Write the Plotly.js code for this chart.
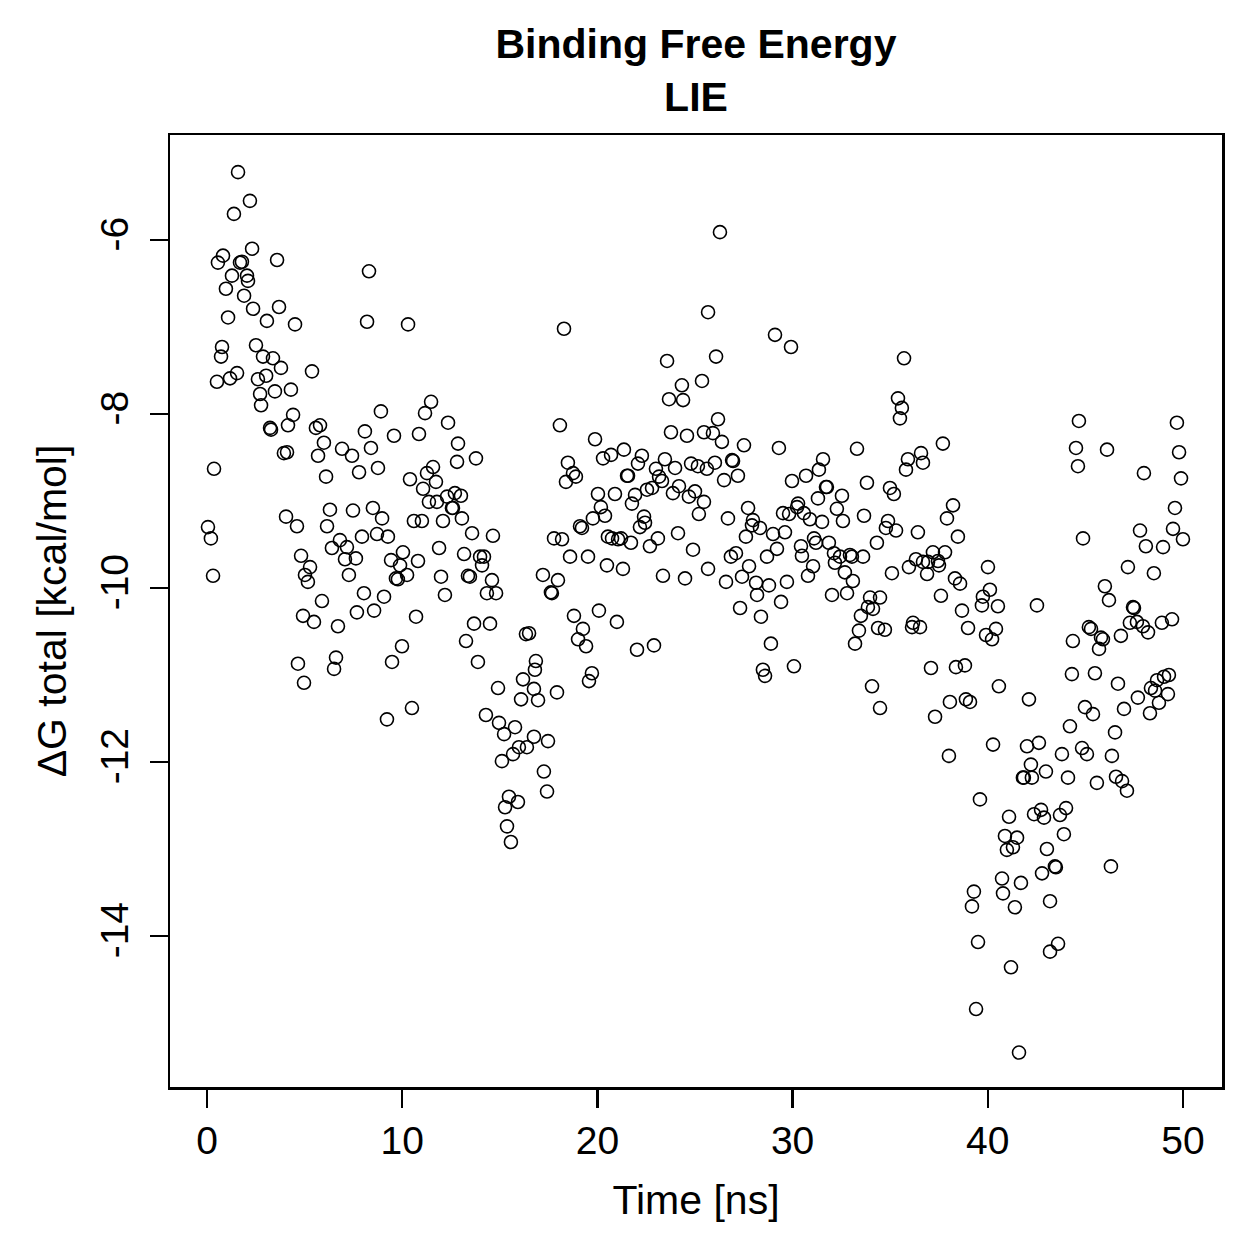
<!DOCTYPE html>
<html>
<head>
<meta charset="utf-8">
<script src="https://cdn.plot.ly/plotly-3.0.1.min.js"></script>
<style>
  html, body { margin: 0; padding: 0; background: #ffffff; }
  #chart { width: 1259px; height: 1259px; }
</style>
</head>
<body>
<div id="chart"></div>
<script>
// LIE binding free energy over the trajectory
const time = [
  0.05,0.20,0.31,0.36,0.51,0.56,0.72,0.77,0.82,0.97,1.08,1.18,1.28,1.38,1.54,1.59,1.69,1.79,1.90,2.05,
  2.10,2.20,2.31,2.36,2.51,2.61,2.72,2.77,2.87,3.03,3.07,3.23,3.28,3.38,3.48,3.59,3.69,3.79,3.94,4.05,
  4.10,4.15,4.30,4.41,4.51,4.61,4.82,5.02,5.17,5.28,5.38,5.58,5.69,5.79,5.99,6.10,6.15,6.30,6.40,6.81,
  6.92,7.07,7.17,7.27,7.43,7.48,7.63,7.79,
  4.66,4.92,4.97,5.48,5.89,6.51,6.61,6.71,7.68,
  7.94,8.04,8.09,8.20,8.30,8.40,8.50,8.71,8.76,8.91,8.97,9.07,9.27,9.43,9.58,9.68,9.78,9.89,10.04,10.25,
  10.30,10.40,10.60,10.81,10.86,11.01,11.07,11.17,11.27,11.37,11.48,11.58,11.73,11.78,11.89,11.99,12.09,12.19,12.30,12.35,
  12.55,12.60,12.70,12.81,12.86,13.01,13.06,13.17,13.37,13.47,13.58,13.78,13.99,14.09,14.19,14.34,14.60,14.65,14.81,
  8.56,9.22,9.48,9.99,10.50,10.71,13.27,13.68,13.88,14.29,14.50,14.91,14.96,15.11,15.22,15.27,15.37,15.47,15.57,15.68,
  15.78,15.93,15.98,16.09,16.19,16.34,16.39,16.50,
  16.85,16.80,16.75,16.96,17.93,16.75,17.47,17.26,17.42,18.80,19.01,19.26,19.42,19.57,19.72,20.08,21.00,22.03,22.90,
  17.21,17.62,17.67,17.78,17.98,18.08,18.19,18.29,18.39,18.49,18.60,18.75,18.90,19.11,19.21,19.52,19.77,19.88,20.03,20.18,
  20.29,20.39,20.49,20.54,20.70,20.75,20.90,21.06,21.21,21.31,21.36,21.52,21.57,21.72,21.77,21.93,22.08,22.18,22.28,22.39,
  22.44,22.54,22.69,22.80,23.00,23.10,23.16,23.31,23.36,23.46,23.57,23.67,23.77,23.87,23.98,24.13,24.18,24.33,24.39,24.49,
  24.59,24.69,24.80,24.90,25.00,25.15,25.20,
  25.36,25.46,25.46,25.61,25.67,25.67,25.92,26.02,26.08,26.18,26.28,26.38,26.49,26.59,26.69,26.84,26.90,26.95,27.10,27.20,
  27.41,27.51,27.61,27.72,27.77,27.92,27.97,28.13,28.33,28.69,28.79,29.00,29.10,29.20,29.30,29.51,29.61,29.71,29.82,29.92,
  29.97,30.23,30.28,30.43,30.48,30.58,30.69,30.79,30.89,31.05,31.10,31.20,31.30,31.35,31.51,31.56,31.71,31.76,31.86,32.12,
  32.17,32.27,32.43,32.53,32.58,32.68,32.94,33.04,33.09,33.30,33.61,33.66,33.81,
  27.31,28.18,28.38,28.48,28.59,28.89,29.41,30.07,32.02,32.79,33.20,33.40,33.50,33.86,33.97,34.12,34.07,34.38,34.48,
  34.32,34.78,34.89,34.99,35.09,35.19,35.30,35.40,35.50,35.60,35.71,35.81,35.91,35.96,36.32,36.42,36.58,36.68,36.68,36.89,
  36.94,37.19,37.45,37.50,37.70,37.81,37.91,38.22,38.32,38.47,38.58,40.01,40.11,
  34.48,34.73,36.12,36.17,36.53,37.09,37.30,37.60,38.01,38.06,38.37,38.68,38.83,38.88,38.99,39.09,39.19,39.29,39.40,39.50,
  39.60,39.75,39.70,39.91,40.22,40.27,40.42,40.52,40.57,40.73,40.78,40.88,40.98,41.09,41.19,41.29,41.39,41.50,41.60,41.70,
  41.80,41.85,42.01,42.11,42.21,42.26,42.37,42.52,42.62,
  42.73,42.78,42.88,42.98,43.03,43.19,43.19,43.44,43.49,43.60,43.70,43.80,43.90,44.01,44.11,44.21,44.31,44.36,44.52,44.62,
  44.67,44.83,44.88,44.98,45.08,45.18,45.29,45.39,45.49,45.59,45.70,45.80,45.90,46.00,46.11,46.21,46.31,46.36,46.52,46.57,
  46.67,46.82,46.88,46.98,47.13,47.18,47.28,47.44,47.49,47.64,47.69,47.80,47.95,48.00,48.10,48.21,48.31,48.36,48.51,48.57,
  48.67,48.77,48.92,48.98,49.03,49.23,49.28,49.44,49.49,49.59,49.69,49.80,49.90,50.00
];

const dGtotal = [
  -9.30,-9.43,-9.86,-8.63,-7.63,-6.26,-7.34,-7.23,-6.18,-6.56,-6.89,-7.59,-6.41,-5.70,-7.53,-5.22,-6.26,-6.25,-6.64,-6.41,
  -6.47,-5.55,-6.10,-6.79,-7.21,-7.60,-7.77,-7.90,-7.34,-7.56,-6.93,-8.16,-8.18,-7.36,-7.74,-6.23,-6.77,-7.47,-8.45,-9.18,
  -8.44,-8.13,-7.72,-8.01,-6.97,-9.29,-9.63,-9.85,-9.93,-9.76,-7.51,-8.16,-8.48,-8.13,-8.33,-8.72,-9.29,-9.10,-9.54,-9.45,
  -8.40,-9.67,-9.53,-9.85,-8.48,-9.11,-9.66,-8.67,
  -10.87,-10.32,-11.09,-10.39,-10.15,-10.93,-10.80,-10.44,-10.28,
  -9.41,-10.06,-8.20,-6.94,-6.36,-8.39,-9.08,-9.38,-8.62,-7.97,-9.20,-10.10,-9.41,-9.68,-8.25,-9.89,-9.90,-9.74,-9.59,-9.85,
  -6.97,-8.75,-9.23,-9.69,-8.23,-9.23,-8.86,-7.99,-8.68,-9.01,-7.86,-8.61,-8.78,-9.01,-9.54,-9.87,-9.23,-10.08,-8.95,-8.10,
  -9.08,-9.08,-8.91,-8.55,-8.34,-8.94,-9.20,-9.61,-9.86,-9.87,-9.37,-8.51,-9.64,-9.74,-9.64,-10.06,-9.91,-9.40,-10.06,
  -10.26,-11.51,-10.85,-10.67,-11.38,-10.33,-10.61,-10.41,-10.85,-11.46,-10.41,-11.15,-11.55,-11.99,-11.68,-12.52,-12.74,-12.40,-12.92,-11.91,
  -11.60,-12.46,-11.83,-11.28,-11.05,-10.53,-11.83,-10.52,
  -10.84,-10.94,-11.16,-11.29,-11.20,-11.71,-11.76,-12.11,-12.34,-10.32,-10.59,-10.47,-10.67,-11.07,-10.98,-10.26,-10.39,-10.71,-10.66,
  -9.85,-10.05,-10.06,-9.43,-9.91,-8.13,-9.44,-7.02,-8.78,-8.56,-9.64,-8.68,-8.72,-9.29,-9.31,-9.64,-9.20,-8.29,-8.92,-9.07,
  -8.51,-9.17,-9.74,-9.41,-8.47,-9.43,-8.92,-9.44,-9.43,-9.78,-8.41,-8.71,-8.71,-9.48,-9.03,-8.93,-8.57,-9.30,-8.48,-9.18,
  -9.25,-8.87,-9.52,-8.85,-8.63,-9.43,-8.72,-8.77,-9.86,-8.52,-7.39,-7.83,-8.21,-8.91,-8.62,-9.37,-8.83,-7.67,-7.84,-9.89,
  -8.25,-8.95,-8.57,-9.56,-8.89,-8.60,-9.15,
  -7.62,-8.21,-9.01,-8.63,-6.83,-9.78,-8.22,-8.56,-7.34,-8.06,-5.91,-8.32,-8.76,-9.93,-9.20,-9.64,-8.53,-8.54,-9.60,-8.71,
  -9.87,-8.36,-9.41,-9.08,-9.75,-9.28,-9.22,-9.94,-9.31,-9.64,-9.97,-9.38,-7.09,-9.55,-8.39,-9.14,-9.36,-9.93,-9.15,-7.23,
  -8.77,-9.07,-9.03,-9.52,-9.63,-9.14,-8.71,-9.86,-9.21,-9.75,-9.43,-9.48,-8.97,-8.64,-9.24,-8.52,-8.84,-8.84,-9.48,-9.60,
  -9.71,-9.09,-9.64,-8.94,-9.23,-9.82,-9.62,-9.64,-9.92,-8.40,-9.64,-9.17,-8.79,
  -10.23,-10.08,-10.33,-10.94,-11.01,-10.64,-10.16,-10.90,-10.08,-10.06,-10.64,-10.49,-10.32,-10.22,-10.11,-10.24,-11.13,-10.46,-11.38,
  -9.48,-9.31,-9.23,-8.85,-9.83,-8.92,-9.34,-7.82,-8.05,-7.93,-7.36,-8.64,-8.52,-9.76,-9.67,-9.36,-8.45,-8.56,-9.70,-9.84,
  -9.70,-9.59,-9.69,-9.74,-8.34,-9.59,-9.20,-9.05,-9.89,-9.41,-9.95,-9.76,-10.02,
  -10.11,-10.48,-10.45,-10.40,-10.45,-10.92,-11.48,-10.09,-11.93,-11.31,-10.91,-10.26,-10.89,-11.28,-10.46,-11.31,-13.66,-13.49,-14.84,-14.07,
  -12.43,-10.10,-10.20,-10.54,-10.59,-11.80,-10.47,-10.21,-11.13,-13.34,-13.51,-12.85,-13.01,-12.63,-14.36,-12.98,-13.67,-12.87,-15.34,-13.39,
  -12.18,-12.18,-11.82,-11.28,-12.03,-12.18,-12.60,-10.20,-11.78,
  -12.55,-13.28,-12.64,-12.11,-13.00,-13.60,-14.18,-13.20,-13.21,-14.09,-12.61,-11.91,-12.83,-12.53,-12.18,-11.59,-10.99,-10.61,-8.39,-8.60,
  -8.08,-11.84,-9.43,-11.37,-11.91,-10.45,-10.47,-11.45,-10.98,-12.24,-10.70,-10.57,-10.59,-9.98,-8.41,-10.14,-13.20,-11.93,-11.66,-12.17,
  -11.10,-10.55,-12.22,-11.39,-12.33,-9.76,-10.40,-10.22,-10.23,-10.39,-11.26,-9.34,-10.44,-8.68,-9.52,-10.51,-11.44,-11.15,-9.83,-11.18,
  -11.06,-11.32,-10.40,-9.53,-11.02,-11.22,-11.00,-10.36,-9.32,-9.08,-8.10,-8.44,-8.74,-9.44
];

const xTicks = [0, 10, 20, 30, 40, 50];
const yTicks = [-14, -12, -10, -8, -6];

const FONT = '"Liberation Sans", Arial, Helvetica, sans-serif';

const trace = {
  x: time,
  y: dGtotal,
  type: 'scatter',
  mode: 'markers',
  marker: {
    symbol: 'circle-open',
    size: 13,
    color: '#000000',
    line: { color: '#000000', width: 1.6 }
  },
  hoverinfo: 'x+y'
};

const axisCommon = {
  showgrid: false,
  zeroline: false,
  showline: true,
  mirror: true,
  linecolor: '#000000',
  linewidth: 2.5,
  ticks: 'outside',
  ticklen: 18,
  tickwidth: 2.5,
  tickcolor: '#000000',
  tickfont: { family: FONT, size: 39, color: '#000000' },
  automargin: false
};

const layout = {
  width: 1259,
  height: 1259,
  paper_bgcolor: '#ffffff',
  plot_bgcolor: '#ffffff',
  showlegend: false,
  margin: { l: 170, r: 37, t: 135, b: 172 },
  title: {
    text: '<b>Binding Free Energy<br>LIE</b>',
    font: { family: FONT, size: 41, color: '#000000' },
    x: 0.5,
    xref: 'paper',
    y: 0.954,
    yref: 'container',
    yanchor: 'top'
  },
  xaxis: Object.assign({}, axisCommon, {
    range: [-1.895, 52.0],
    tickmode: 'array',
    tickvals: xTicks,
    ticktext: xTicks.map(String),
    ticklabelstandoff: 0,
    title: { text: 'Time [ns]', font: { family: FONT, size: 41, color: '#000000' }, standoff: 24 }
  }),
  yaxis: Object.assign({}, axisCommon, {
    range: [-15.736, -4.793],
    tickmode: 'array',
    tickvals: yTicks,
    ticktext: yTicks.map(String),
    tickangle: -90,
    ticklabelstandoff: 6,
    title: { text: 'ΔG total [kcal/mol]', font: { family: FONT, size: 41, color: '#000000' }, standoff: 14 }
  })
};

Plotly.newPlot('chart', [trace], layout, { displayModeBar: false, staticPlot: true });
</script>
</body>
</html>
